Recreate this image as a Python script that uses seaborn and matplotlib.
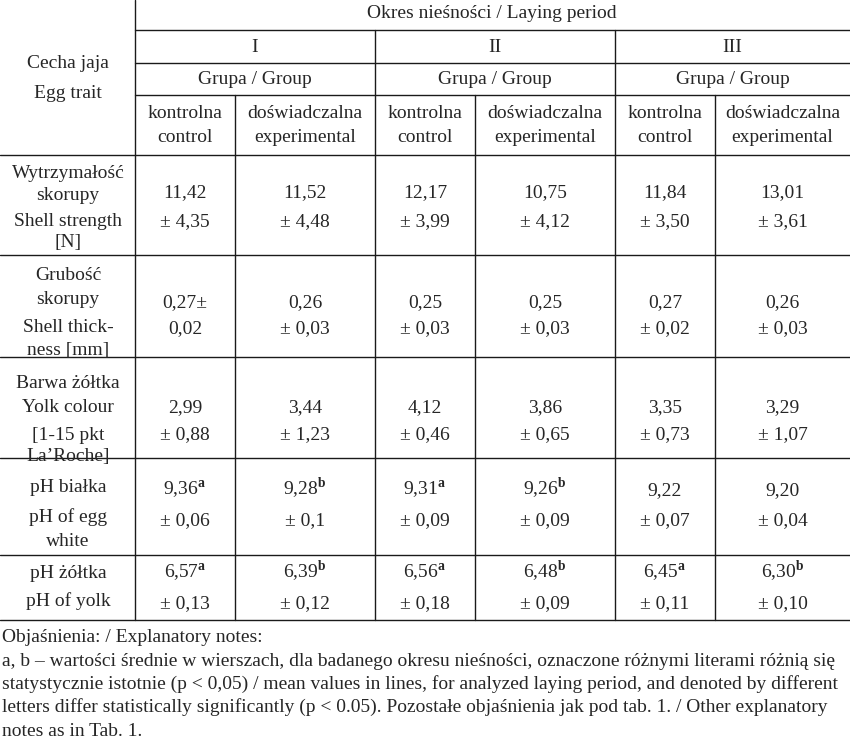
import matplotlib.pyplot as plt
import seaborn as sns

sns.set_theme(style="white")
plt.rcParams['font.family'] = ['Liberation Serif', 'DejaVu Serif']
plt.rcParams['mathtext.fontset'] = 'custom'
plt.rcParams['mathtext.rm'] = 'Liberation Serif'
plt.rcParams['mathtext.bf'] = 'Liberation Serif:bold'

periods = ["I", "II", "III"]
groups = [("kontrolna", "control"), ("doświadczalna", "experimental")]
means = [
    ["11,42", "11,52", "12,17", "10,75", "11,84", "13,01"],
    ["0,27±", "0,26", "0,25", "0,25", "0,27", "0,26"],
    ["2,99", "3,44", "4,12", "3,86", "3,35", "3,29"],
    ["9,36$^{\\mathbf{a}}$", "9,28$^{\\mathbf{b}}$", "9,31$^{\\mathbf{a}}$", "9,26$^{\\mathbf{b}}$", "9,22", "9,20"],
    ["6,57$^{\\mathbf{a}}$", "6,39$^{\\mathbf{b}}$", "6,56$^{\\mathbf{a}}$", "6,48$^{\\mathbf{b}}$", "6,45$^{\\mathbf{a}}$", "6,30$^{\\mathbf{b}}$"],
]
sds = [
    ["± 4,35", "± 4,48", "± 3,99", "± 4,12", "± 3,50", "± 3,61"],
    ["0,02", "± 0,03", "± 0,03", "± 0,03", "± 0,02", "± 0,03"],
    ["± 0,88", "± 1,23", "± 0,46", "± 0,65", "± 0,73", "± 1,07"],
    ["± 0,06", "± 0,1", "± 0,09", "± 0,09", "± 0,07", "± 0,04"],
    ["± 0,13", "± 0,12", "± 0,18", "± 0,09", "± 0,11", "± 0,10"],
]
traits = [
    ["Wytrzymałość", "skorupy", "Shell strength", "[N]"],
    ["Grubość", "skorupy", "Shell thick-", "ness [mm]"],
    ["Barwa żółtka", "Yolk colour", "[1-15 pkt", "La’Roche]"],
    ["pH białka", "pH of egg", "white"],
    ["pH żółtka", "pH of yolk"],
]
trait_y = [[173, 195, 221, 242], [275, 298, 327, 349], [382, 407, 434, 455],
           [487, 517, 540], [573, 600]]
row_y = [(192, 221), (302, 328), (407, 434), (490, 520), (573, 603)]
notes = [
    "Objaśnienia: / Explanatory notes:",
    "a, b – wartości średnie w wierszach, dla badanego okresu nieśności, oznaczone różnymi literami różnią się",
    "statystycznie istotnie (p < 0,05) / mean values in lines, for analyzed laying period, and denoted by different",
    "letters differ statistically significantly (p < 0.05). Pozostałe objaśnienia jak pod tab. 1. / Other explanatory",
    "notes as in Tab. 1.",
]

xs = [135, 235, 375, 475, 615, 715, 850]
fig = plt.figure(figsize=(8.5, 7.46), dpi=100)
ax = fig.add_axes([0, 0, 1, 1])
ax.set_xlim(0, 850)
ax.set_ylim(746, 0)
ax.axis("off")
fs = 14
lw = 1.0
off = 5.5  # baseline offset from visual centre


def txt(x, y, s, ha="center"):
    ax.text(x, y + off, s, ha=ha, va="baseline", fontsize=fs)


# lines
ax.plot([135, 135], [0, 620], color="k", lw=lw)
for x in [375, 615]:
    ax.plot([x, x], [30, 620], color="k", lw=lw)
for x in [235, 475, 715]:
    ax.plot([x, x], [95, 620], color="k", lw=lw)
for y in [30, 63, 95]:
    ax.plot([135, 850], [y, y], color="k", lw=lw)
for y in [155, 255, 357, 458, 555, 620]:
    ax.plot([0, 850], [y, y], color="k", lw=lw)

# header
txt(492, 13, "Okres nieśności / Laying period")
txt(68, 62, "Cecha jaja")
txt(68, 92, "Egg trait")
for i, p in enumerate(periods):
    cx = [(135 + 375) / 2, (375 + 615) / 2, (615 + 850) / 2][i]
    txt(cx, 47, p)
    txt(cx, 79, "Grupa / Group")
for j in range(6):
    cx = (xs[j] + xs[j + 1]) / 2
    g = groups[j % 2]
    txt(cx, 112, g[0])
    txt(cx, 137, g[1])

# body
for r in range(len(traits)):
    for t, y in zip(traits[r], trait_y[r]):
        txt(68, y, t)
    for j in range(6):
        cx = (xs[j] + xs[j + 1]) / 2
        txt(cx, row_y[r][0], means[r][j])
        txt(cx, row_y[r][1], sds[r][j])

for k, line in enumerate(notes):
    txt(2, 637 + k * 23.3, line, ha="left")

fig.savefig("out.png", dpi=100)
